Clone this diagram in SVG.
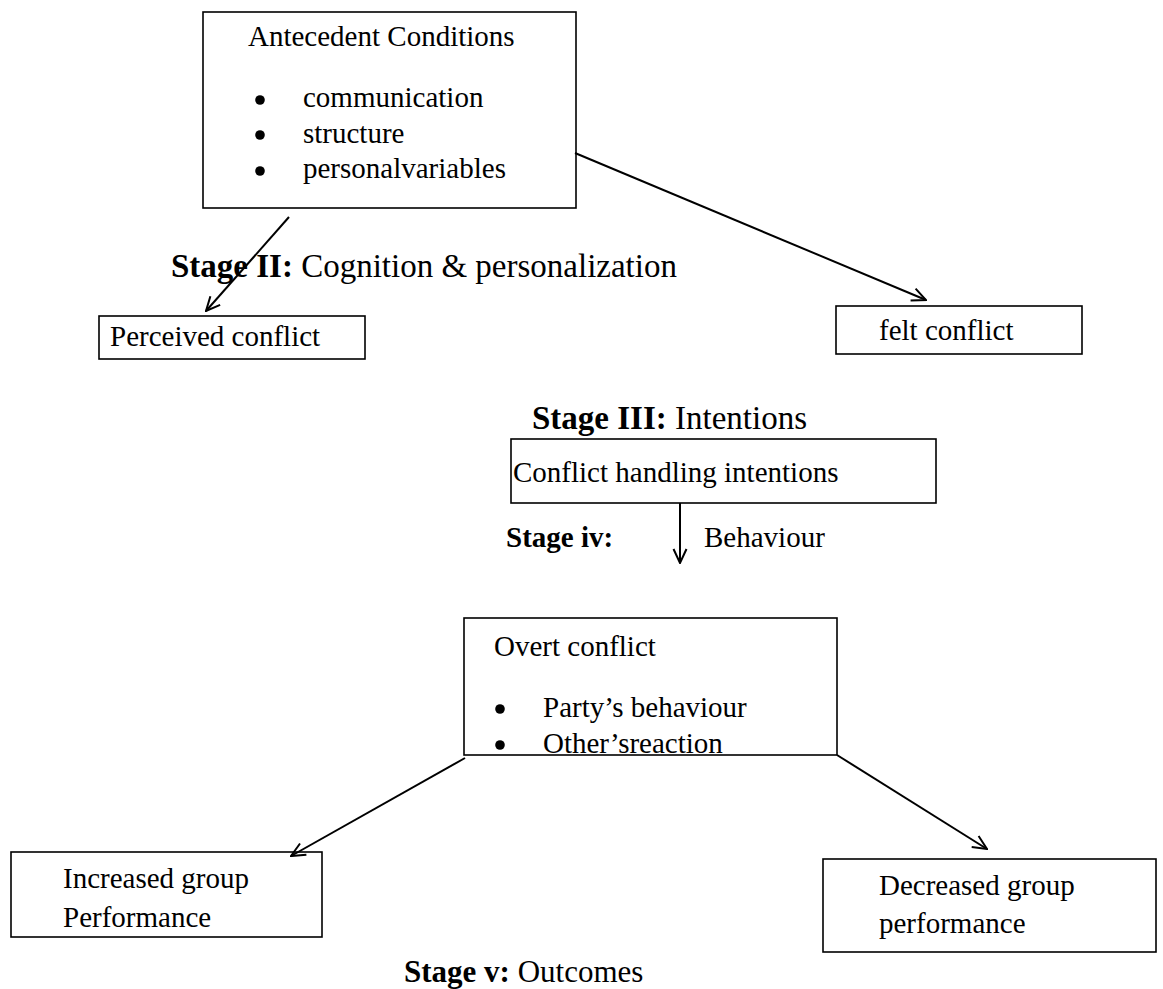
<svg xmlns="http://www.w3.org/2000/svg" width="1163" height="989" viewBox="0 0 1163 989">
<style>
text{font-family:"Liberation Serif","Times New Roman",serif;fill:#000}
.t{font-size:29px}
.s{font-size:33px}
.b{font-weight:bold}
.box{fill:#fff;stroke:#000;stroke-width:1.6}
.c{stroke:#000;stroke-width:2;fill:none}
</style>
<defs>
<marker id="ah" viewBox="0 0 16 16" refX="15" refY="8" markerWidth="16" markerHeight="16" markerUnits="userSpaceOnUse" orient="auto">
<path d="M1,1.5 L15,8 L1,14.5" fill="none" stroke="#000" stroke-width="2"/>
</marker>
</defs>
<rect width="1163" height="989" fill="#fff"/>
<g id="antecedent">
<rect class="box" x="203" y="12" width="373" height="196"/>
<text class="t" x="248" y="46">Antecedent Conditions</text>
<circle cx="260" cy="100" r="4.8"/>
<circle cx="260" cy="135" r="4.8"/>
<circle cx="260" cy="171" r="4.8"/>
<text class="t" x="303" y="107">communication</text>
<text class="t" x="303" y="143">structure</text>
<text class="t" x="303" y="178">personalvariables</text>
</g>
<g id="perceived">
<rect class="box" x="99" y="316" width="266" height="43"/>
<text class="t" x="110" y="346">Perceived conflict</text>
</g>
<g id="felt">
<rect class="box" x="836" y="306" width="246" height="48"/>
<text class="t" x="879" y="340">felt conflict</text>
</g>
<g id="intentions">
<rect class="box" x="511" y="439" width="425" height="64"/>
<text class="t" x="513" y="482">Conflict handling intentions</text>
</g>
<g id="overt">
<rect class="box" x="464" y="618" width="373" height="137"/>
<text class="t" x="494" y="656">Overt conflict</text>
<circle cx="500" cy="709" r="4.8"/>
<circle cx="500" cy="745" r="4.8"/>
<text class="t" x="543" y="717">Party’s behaviour</text>
<text class="t" x="543" y="753">Other’sreaction</text>
</g>
<g id="increased">
<rect class="box" x="11" y="852" width="311" height="85"/>
<text class="t" x="63" y="888">Increased group</text>
<text class="t" x="63" y="927">Performance</text>
</g>
<g id="decreased">
<rect class="box" x="823" y="859" width="333" height="93"/>
<text class="t" x="879" y="895">Decreased group</text>
<text class="t" x="879" y="933">performance</text>
</g>
<g id="labels">
<text class="s" x="171" y="277"><tspan class="b">Stage II:</tspan> Cognition &amp; personalization</text>
<text class="s" x="532" y="429"><tspan class="b">Stage III:</tspan> Intentions</text>
<text class="t" x="506" y="547"><tspan class="b">Stage iv:</tspan></text>
<text class="t" x="704" y="547">Behaviour</text>
<text style="font-size:31px" x="404" y="982"><tspan class="b">Stage v:</tspan> Outcomes</text>
</g>
<g id="connectors">
<line class="c" x1="289" y1="217" x2="206" y2="311" marker-end="url(#ah)"/>
<line class="c" x1="575" y1="153" x2="926" y2="300" marker-end="url(#ah)"/>
<line class="c" x1="680" y1="503" x2="680" y2="563" marker-end="url(#ah)"/>
<line class="c" x1="465" y1="758" x2="291" y2="856" marker-end="url(#ah)"/>
<line class="c" x1="837" y1="755" x2="987" y2="849" marker-end="url(#ah)"/>
</g>
</svg>
